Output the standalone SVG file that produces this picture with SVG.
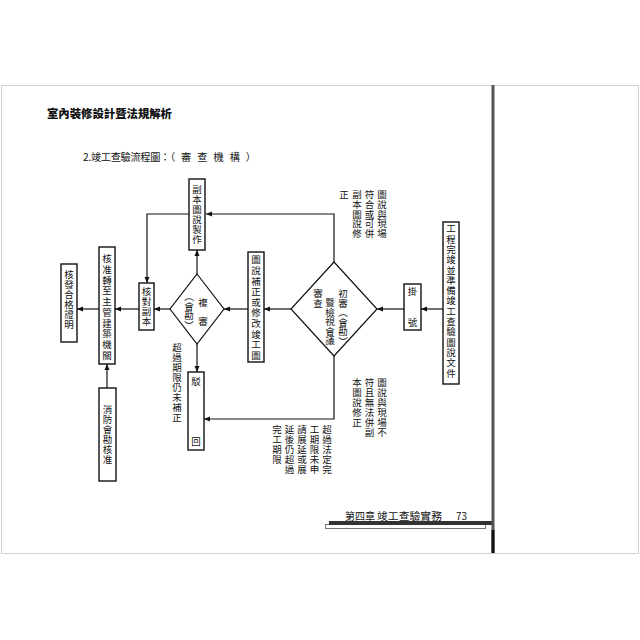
<svg xmlns="http://www.w3.org/2000/svg" width="640" height="640" viewBox="0 0 640 640">
<style>
text{font-family:"Noto Sans CJK TC","Noto Sans CJK SC",sans-serif;fill:#111;}
.v{writing-mode:vertical-rl;text-orientation:upright;font-size:9.5px;}
.box{fill:#fff;stroke:#111;stroke-width:1.4;}
.dia{fill:#fff;stroke:#111;stroke-width:1.2;}
.ln{fill:none;stroke:#111;stroke-width:1.2;}
</style>
<defs>
<marker id="ah" markerUnits="userSpaceOnUse" markerWidth="7" markerHeight="6" refX="6" refY="3" orient="auto">
<path d="M0,0.5 L6,3 L0,5.5 Z" fill="#111"/>
</marker>
</defs>
<rect x="0" y="0" width="640" height="640" fill="#fff"/>
<rect x="1.5" y="85.5" width="637" height="468" fill="none" stroke="#d0d0d0" stroke-width="1"/>
<line x1="493" y1="85" x2="493" y2="553" stroke="#555" stroke-width="3"/>
<line x1="493" y1="530" x2="493" y2="553" stroke="#111" stroke-width="3"/>

<text x="47" y="118" font-size="11.4" font-weight="900" textLength="125" lengthAdjust="spacingAndGlyphs">室內裝修設計暨法規解析</text>
<text x="83" y="161" font-size="10.2"><tspan letter-spacing="-0.3">2.竣工查驗流程圖：</tspan><tspan letter-spacing="6">（審查機構）</tspan></text>

<g id="connectors">
<polyline class="ln" points="334,263 334,214 206,214" marker-end="url(#ah)"/>
<polyline class="ln" points="189,214 147,214 147,283" marker-end="url(#ah)"/>
<line class="ln" x1="197" y1="274" x2="197" y2="250" marker-end="url(#ah)"/>
<line class="ln" x1="197" y1="344" x2="197" y2="372" marker-end="url(#ah)"/>
<line class="ln" x1="170" y1="309" x2="154" y2="309" marker-end="url(#ah)"/>
<line class="ln" x1="139" y1="309" x2="115" y2="309" marker-end="url(#ah)"/>
<line class="ln" x1="99" y1="309" x2="77" y2="309" marker-end="url(#ah)"/>
<line class="ln" x1="107" y1="388" x2="107" y2="364" marker-end="url(#ah)"/>
<line class="ln" x1="248" y1="309" x2="224" y2="309" marker-end="url(#ah)"/>
<line class="ln" x1="291" y1="309" x2="264" y2="309" marker-end="url(#ah)"/>
<line class="ln" x1="404" y1="309" x2="377" y2="309" marker-end="url(#ah)"/>
<line class="ln" x1="443" y1="309" x2="421" y2="309" marker-end="url(#ah)"/>
<polyline class="ln" points="334,356 334,419 204,419" marker-end="url(#ah)"/>
</g>

<g id="n-copy">
<rect class="box" x="189" y="179" width="16" height="71"/>
<text class="v" x="197" y="185" letter-spacing="0.5">副本圖說製作</text>
</g>
<g id="n-check">
<rect class="box" x="139" y="283" width="15" height="47"/>
<text class="v" x="146.5" y="287" letter-spacing="0.5">核對副本</text>
</g>
<g id="n-transfer">
<rect class="box" x="99" y="247" width="16" height="117"/>
<text class="v" x="107" y="254" letter-spacing="1.2">核准轉至主管建築機關</text>
</g>
<g id="n-cert">
<rect class="box" x="61" y="264" width="16" height="78"/>
<text class="v" x="69" y="270" letter-spacing="0.5">核發合格證明</text>
</g>
<g id="n-fire">
<rect class="box" x="99" y="388" width="17" height="93"/>
<text class="v" x="107.5" y="405" letter-spacing="0.5">消防會勘核准</text>
</g>
<g id="n-revise">
<rect class="box" x="248" y="252" width="16" height="110"/>
<text class="v" x="256" y="255" letter-spacing="1.1">圖說補正或修改竣工圖</text>
</g>
<g id="n-docs">
<rect class="box" x="443" y="222" width="16" height="162"/>
<text class="v" x="451" y="224" letter-spacing="0.8">工程完竣並準備竣工查驗圖說文件</text>
</g>
<g id="n-register">
<rect class="box" x="404" y="284" width="17" height="46"/>
<text class="v" x="412.5" y="287" letter-spacing="21.5">掛號</text>
</g>
<g id="n-reject">
<rect class="box" x="188" y="372" width="16" height="78"/>
<text class="v" x="196" y="377" letter-spacing="50.5">駁回</text>
</g>
<g id="n-first">
<polygon class="dia" points="334,262 377,309 334,356 291,309"/>
<text class="v" x="343" y="289">初審（會勘）</text>
<text class="v" x="330" y="298">暨檢視會議</text>
<text class="v" x="318" y="289">審查</text>
</g>
<g id="n-second">
<polygon class="dia" points="197,274 224,309 197,344 170,309"/>
<text class="v" x="203" y="298" letter-spacing="9.5">複審</text>
<text class="v" x="189" y="292">（會勘）</text>
</g>

<g id="labels">
<text class="v" x="177" y="343" letter-spacing="0.5">超過期限仍未補正</text>
<text class="v" x="382" y="190" letter-spacing="0.2">圖說與現場</text>
<text class="v" x="369.5" y="190" letter-spacing="0.2">符合或可併</text>
<text class="v" x="357" y="190" letter-spacing="0.2">副本圖說修</text>
<text class="v" x="344" y="190" letter-spacing="0.2">正</text>
<text class="v" x="382" y="378" letter-spacing="0.5">圖說與現場不</text>
<text class="v" x="369.5" y="378" letter-spacing="0.5">符且無法併副</text>
<text class="v" x="357" y="378" letter-spacing="0.5">本圖說修正</text>
<text class="v" x="327" y="425" letter-spacing="0.5">超過法定完</text>
<text class="v" x="314.5" y="425" letter-spacing="0.5">工期限未申</text>
<text class="v" x="302" y="425" letter-spacing="0.5">請展延或展</text>
<text class="v" x="289.5" y="425" letter-spacing="0.5">延後仍超過</text>
<text class="v" x="277" y="425" letter-spacing="0.5">完工期限</text>
</g>

<g id="footer">
<rect x="325.5" y="524.5" width="160" height="4" fill="#fff" stroke="#777" stroke-width="1"/>
<rect x="329" y="521" width="163" height="4" fill="#333"/>
<text x="345" y="520" font-size="10" fill="#222">第四章</text>
<text x="377" y="520" font-size="10" fill="#222" textLength="65" lengthAdjust="spacingAndGlyphs">竣工查驗實務</text>
<text x="456" y="520" font-size="10" fill="#222" font-family="Liberation Sans, sans-serif">73</text>
</g>
</svg>
